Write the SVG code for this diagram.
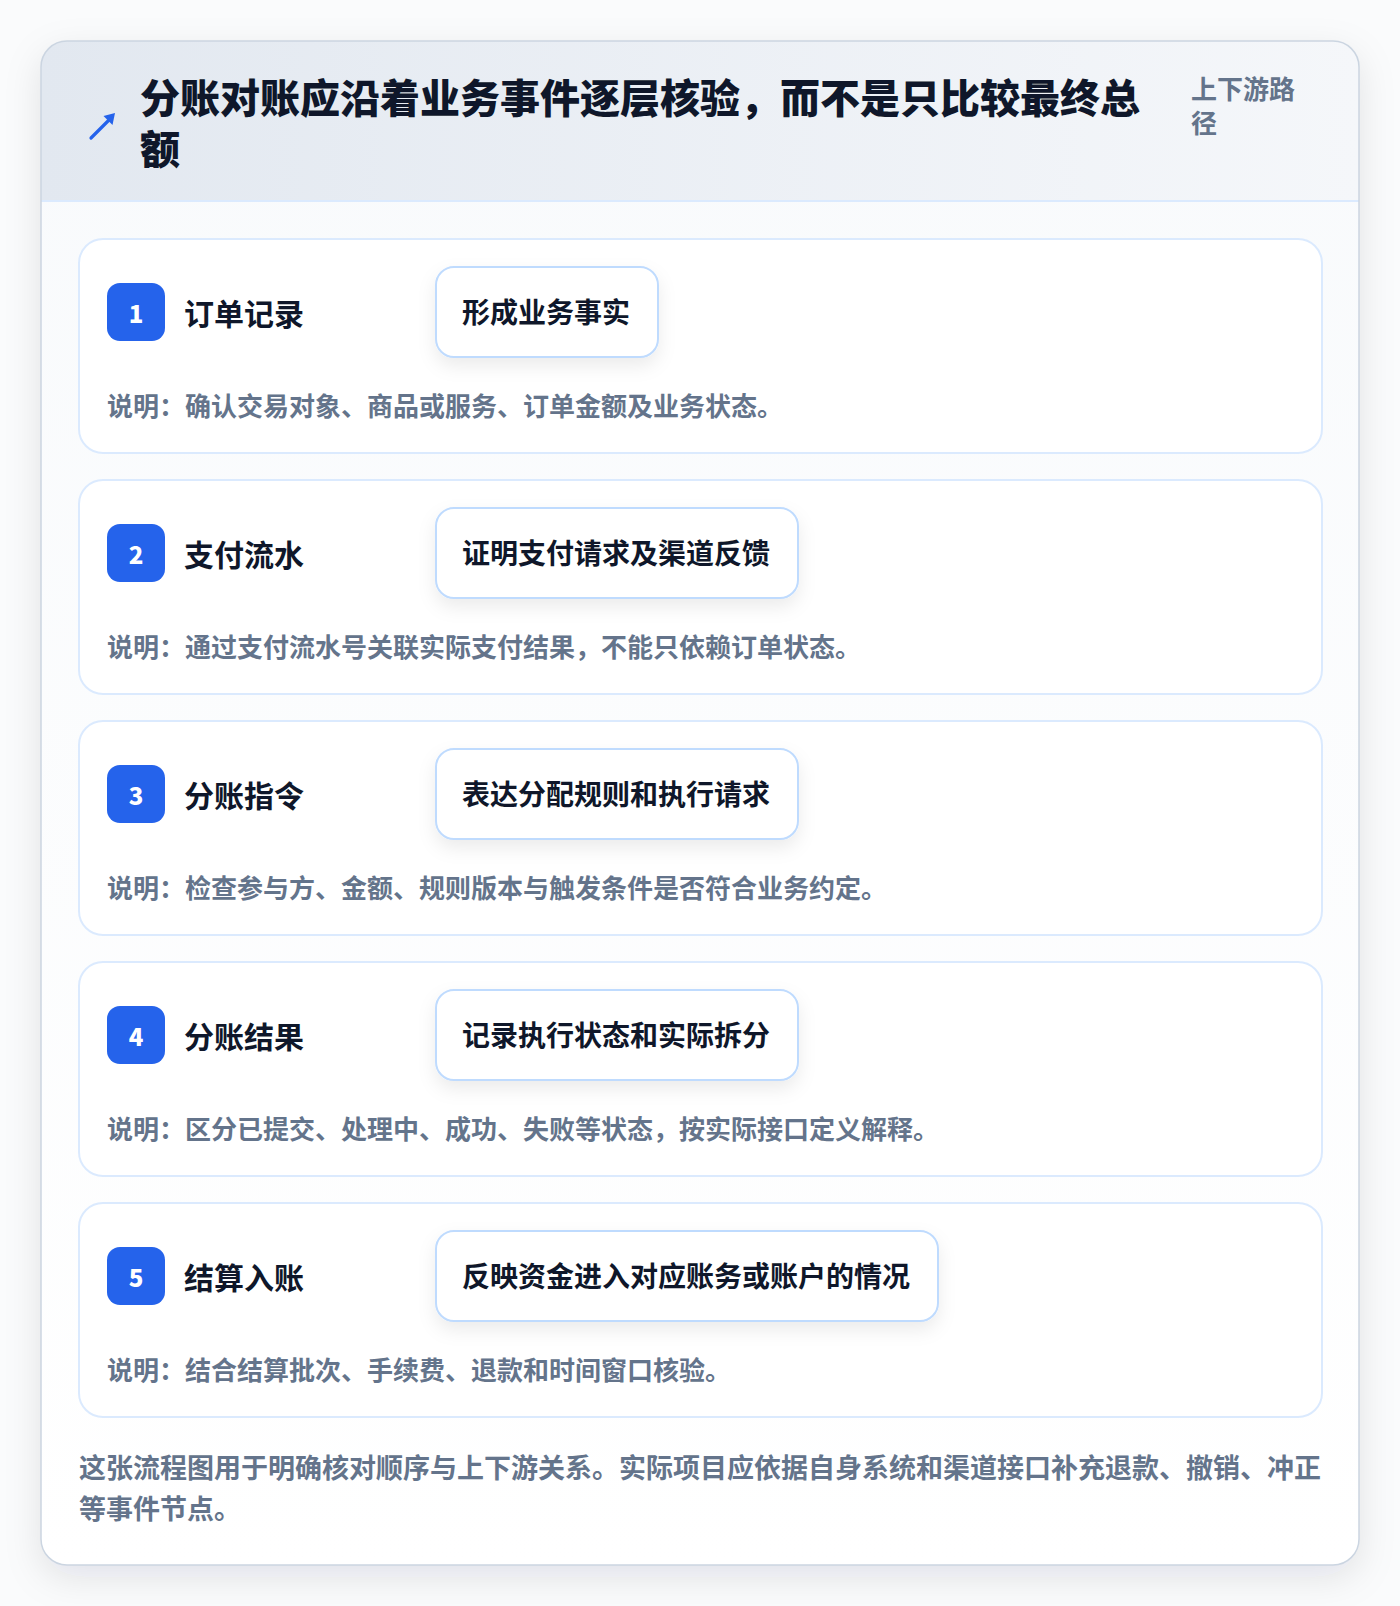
<svg xmlns="http://www.w3.org/2000/svg" width="1400" height="1606" viewBox="0 0 1400 1606">
<defs>
<style>
.cjk{font-family:"Noto Sans CJK SC","Noto Sans",sans-serif;font-weight:700}
.title{font-size:40px;fill:#0f172a;font-weight:900}
.tag{font-size:26px;fill:#64748b}
.card{fill:#ffffff;stroke:#dbeafe;stroke-width:2}
.badge{fill:#2563eb}
.num{font-family:"Noto Sans CJK SC","Noto Sans",sans-serif;font-weight:900;font-size:24px;fill:#ffffff}
.label{font-size:30px;fill:#0f172a}
.pill{fill:#ffffff;stroke:#bfdbfe;stroke-width:2}
.pilltext{font-size:28px;fill:#0f172a}
.desc{font-size:26px;fill:#64748b}
.foot{font-size:27px;fill:#64748b}
</style>
<linearGradient id="hdr" x1="0" y1="0" x2="1" y2="0">
<stop offset="0" stop-color="#e2e8f0"/>
<stop offset="1" stop-color="#f5f7fa"/>
</linearGradient>
<linearGradient id="body" x1="0" y1="0" x2="0" y2="1">
<stop offset="0" stop-color="#f8fafc"/>
<stop offset="1" stop-color="#ffffff"/>
</linearGradient>
<clipPath id="outerClip"><rect x="41" y="41" width="1318" height="1524" rx="26"/></clipPath>
<filter id="outerShadow" x="-10%" y="-10%" width="120%" height="120%">
<feDropShadow dx="0" dy="12" stdDeviation="18" flood-color="#0f172a" flood-opacity="0.10"/>
</filter>
<filter id="pillShadow" x="-20%" y="-40%" width="140%" height="200%">
<feDropShadow dx="0" dy="8" stdDeviation="9" flood-color="#0f172a" flood-opacity="0.08"/>
</filter>
</defs>
<rect x="0" y="0" width="1400" height="1606" fill="#fafbfc"/>
<g id="frame">
<rect x="41" y="41" width="1318" height="1524" rx="26" fill="#ffffff" filter="url(#outerShadow)"/>
<g clip-path="url(#outerClip)">
<rect x="41" y="41" width="1318" height="1524" fill="url(#body)"/>
<rect x="41" y="41" width="1318" height="160" fill="url(#hdr)"/>
<line x1="41" y1="201" x2="1359" y2="201" stroke="#dbeafe" stroke-width="2"/>
</g>
<rect x="41" y="41" width="1318" height="1524" rx="26" fill="none" stroke="#cbd5e1" stroke-width="1.5"/>
</g>
<g id="header">
<g id="icon">
<line x1="91" y1="138" x2="110" y2="119" stroke="#2563eb" stroke-width="3.2" stroke-linecap="round"/>
<polygon points="115,113 112.5,125 103.5,116" fill="#2563eb"/>
</g>
<text class="cjk title" x="140" y="113">分账对账应沿着业务事件逐层核验，而不是只比较最终总</text>
<text class="cjk title" x="140" y="164">额</text>
<text class="cjk tag" x="1191" y="99">上下游路</text>
<text class="cjk tag" x="1191" y="133">径</text>
</g>
<g id="step1">
<rect class="card" x="79" y="239" width="1243" height="214" rx="24"/>
<rect class="badge" x="107" y="283" width="58" height="58" rx="13"/>
<text class="num" x="136" y="323" text-anchor="middle">1</text>
<text class="cjk label" x="184" y="325">订单记录</text>
<rect class="pill" x="436" y="267" width="222" height="90" rx="18" filter="url(#pillShadow)"/>
<text class="cjk pilltext" x="462" y="323">形成业务事实</text>
<text class="cjk desc" x="107" y="416">说明：确认交易对象、商品或服务、订单金额及业务状态。</text>
</g>
<g id="step2">
<rect class="card" x="79" y="480" width="1243" height="214" rx="24"/>
<rect class="badge" x="107" y="524" width="58" height="58" rx="13"/>
<text class="num" x="136" y="564" text-anchor="middle">2</text>
<text class="cjk label" x="184" y="566">支付流水</text>
<rect class="pill" x="436" y="508" width="362" height="90" rx="18" filter="url(#pillShadow)"/>
<text class="cjk pilltext" x="462" y="564">证明支付请求及渠道反馈</text>
<text class="cjk desc" x="107" y="657">说明：通过支付流水号关联实际支付结果，不能只依赖订单状态。</text>
</g>
<g id="step3">
<rect class="card" x="79" y="721" width="1243" height="214" rx="24"/>
<rect class="badge" x="107" y="765" width="58" height="58" rx="13"/>
<text class="num" x="136" y="805" text-anchor="middle">3</text>
<text class="cjk label" x="184" y="807">分账指令</text>
<rect class="pill" x="436" y="749" width="362" height="90" rx="18" filter="url(#pillShadow)"/>
<text class="cjk pilltext" x="462" y="805">表达分配规则和执行请求</text>
<text class="cjk desc" x="107" y="898">说明：检查参与方、金额、规则版本与触发条件是否符合业务约定。</text>
</g>
<g id="step4">
<rect class="card" x="79" y="962" width="1243" height="214" rx="24"/>
<rect class="badge" x="107" y="1006" width="58" height="58" rx="13"/>
<text class="num" x="136" y="1046" text-anchor="middle">4</text>
<text class="cjk label" x="184" y="1048">分账结果</text>
<rect class="pill" x="436" y="990" width="362" height="90" rx="18" filter="url(#pillShadow)"/>
<text class="cjk pilltext" x="462" y="1046">记录执行状态和实际拆分</text>
<text class="cjk desc" x="107" y="1139">说明：区分已提交、处理中、成功、失败等状态，按实际接口定义解释。</text>
</g>
<g id="step5">
<rect class="card" x="79" y="1203" width="1243" height="214" rx="24"/>
<rect class="badge" x="107" y="1247" width="58" height="58" rx="13"/>
<text class="num" x="136" y="1287" text-anchor="middle">5</text>
<text class="cjk label" x="184" y="1289">结算入账</text>
<rect class="pill" x="436" y="1231" width="502" height="90" rx="18" filter="url(#pillShadow)"/>
<text class="cjk pilltext" x="462" y="1287">反映资金进入对应账务或账户的情况</text>
<text class="cjk desc" x="107" y="1380">说明：结合结算批次、手续费、退款和时间窗口核验。</text>
</g>
<g id="connectors"></g>
<g id="footer">
<text class="cjk foot" x="79" y="1478">这张流程图用于明确核对顺序与上下游关系。实际项目应依据自身系统和渠道接口补充退款、撤销、冲正</text>
<text class="cjk foot" x="79" y="1519">等事件节点。</text>
</g>
</svg>
